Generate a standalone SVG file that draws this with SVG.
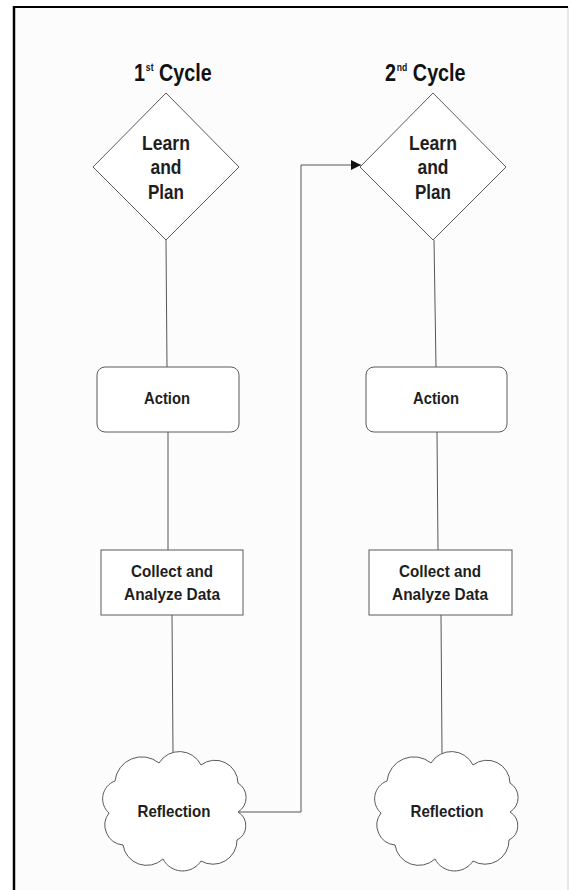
<svg xmlns="http://www.w3.org/2000/svg" width="571" height="890" viewBox="0 0 571 890">
  <style>
    .node { fill: #ffffff; stroke: #5a5a5a; stroke-width: 1; }
    .label { font-family: "Liberation Sans", Arial, sans-serif; font-weight: bold; fill: #1e1e1e; text-anchor: middle; }
    .title { font-family: "Liberation Sans", Arial, sans-serif; font-weight: bold; fill: #111111; font-size: 23px; }
    .sup { font-size: 10px; }
    .wire { fill: none; stroke: #555555; stroke-width: 1; }
  </style>
  <defs>
    <marker id="arrow" viewBox="0 0 10 10" refX="10" refY="5" markerWidth="10" markerHeight="10" markerUnits="userSpaceOnUse" orient="auto">
      <path d="M0,0 L10,5 L0,10 Z" fill="#111111"/>
    </marker>
    <!-- cloud outline, local box about 147 x 118 -->
    <path id="cloud" d="M14,28 A27,27 0 0 1 58,10 A24,24 0 0 1 100,12 A23,23 0 0 1 137,30 A17,17 0 0 1 137,59 A16,16 0 0 1 136,87 A24,24 0 0 1 100,108 A22,22 0 0 1 62,106 A24,24 0 0 1 22,92 A20,20 0 0 1 8,60 A19,19 0 0 1 14,28 Z"/>
  </defs>

  <!-- page frame -->
  <rect x="0" y="0" width="571" height="890" fill="#ffffff"/>
  <rect x="14" y="7" width="554" height="900" fill="#fcfcfc" stroke="none"/>
  <line x1="568" y1="7" x2="568" y2="890" stroke="#d4d4d4" stroke-width="1"/>
  <line x1="13" y1="7" x2="568" y2="7" stroke="#000000" stroke-width="2"/>
  <line x1="14" y1="6" x2="14" y2="890" stroke="#000000" stroke-width="2.5"/>

  <!-- column titles (slightly condensed) -->
  <text id="title1" class="title" transform="translate(134,81) scale(0.86,1)">1<tspan class="sup" dx="1" dy="-10">st</tspan><tspan dy="10"> Cycle</tspan></text>
  <text id="title2" class="title" transform="translate(385,81) scale(0.86,1)">2<tspan class="sup" dx="1" dy="-10">nd</tspan><tspan dy="10"> Cycle</tspan></text>

  <!-- connectors -->
  <g id="connectors">
    <line class="wire" x1="166" y1="240" x2="167" y2="367"/>
    <line class="wire" x1="168" y1="432" x2="168" y2="550"/>
    <line class="wire" x1="172" y1="615" x2="173" y2="753"/>
    <polyline class="wire" points="238,812 301,812 301,165 361,165" marker-end="url(#arrow)"/>
    <line class="wire" x1="434" y1="240" x2="436" y2="367"/>
    <line class="wire" x1="437" y1="432" x2="438" y2="550"/>
    <line class="wire" x1="441" y1="615" x2="442" y2="753"/>
  </g>

  <!-- first cycle -->
  <g id="plan1">
    <polygon class="node" points="166,93 239,167 166,240 93,167"/>
    <text class="label" x="166" y="150" font-size="19.5" textLength="48" lengthAdjust="spacingAndGlyphs">Learn</text>
    <text class="label" x="166" y="174" font-size="19.5" textLength="31" lengthAdjust="spacingAndGlyphs">and</text>
    <text class="label" x="166" y="199" font-size="19.5" textLength="36" lengthAdjust="spacingAndGlyphs">Plan</text>
  </g>
  <g id="action1">
    <rect class="node" x="97" y="367" width="142" height="65" rx="8"/>
    <text class="label" x="167" y="404" font-size="17" textLength="46" lengthAdjust="spacingAndGlyphs">Action</text>
  </g>
  <g id="collect1">
    <rect class="node" x="101" y="550" width="142" height="65"/>
    <text class="label" x="172" y="577" font-size="16.5" textLength="82" lengthAdjust="spacingAndGlyphs">Collect and</text>
    <text class="label" x="172" y="600" font-size="16.5" textLength="96" lengthAdjust="spacingAndGlyphs">Analyze Data</text>
  </g>
  <g id="reflection1">
    <use href="#cloud" class="node" x="101" y="753"/>
    <text class="label" x="174" y="817" font-size="16.5" textLength="73" lengthAdjust="spacingAndGlyphs">Reflection</text>
  </g>

  <!-- second cycle -->
  <g id="plan2">
    <polygon class="node" points="433,93 506,167 433,240 360,167"/>
    <text class="label" x="433" y="150" font-size="19.5" textLength="48" lengthAdjust="spacingAndGlyphs">Learn</text>
    <text class="label" x="433" y="174" font-size="19.5" textLength="31" lengthAdjust="spacingAndGlyphs">and</text>
    <text class="label" x="433" y="199" font-size="19.5" textLength="36" lengthAdjust="spacingAndGlyphs">Plan</text>
  </g>
  <g id="action2">
    <rect class="node" x="366" y="367" width="141" height="65" rx="8"/>
    <text class="label" x="436" y="404" font-size="17" textLength="46" lengthAdjust="spacingAndGlyphs">Action</text>
  </g>
  <g id="collect2">
    <rect class="node" x="369" y="550" width="143" height="65"/>
    <text class="label" x="440" y="577" font-size="16.5" textLength="82" lengthAdjust="spacingAndGlyphs">Collect and</text>
    <text class="label" x="440" y="600" font-size="16.5" textLength="96" lengthAdjust="spacingAndGlyphs">Analyze Data</text>
  </g>
  <g id="reflection2">
    <use href="#cloud" class="node" x="373" y="753"/>
    <text class="label" x="447" y="817" font-size="16.5" textLength="73" lengthAdjust="spacingAndGlyphs">Reflection</text>
  </g>
</svg>
